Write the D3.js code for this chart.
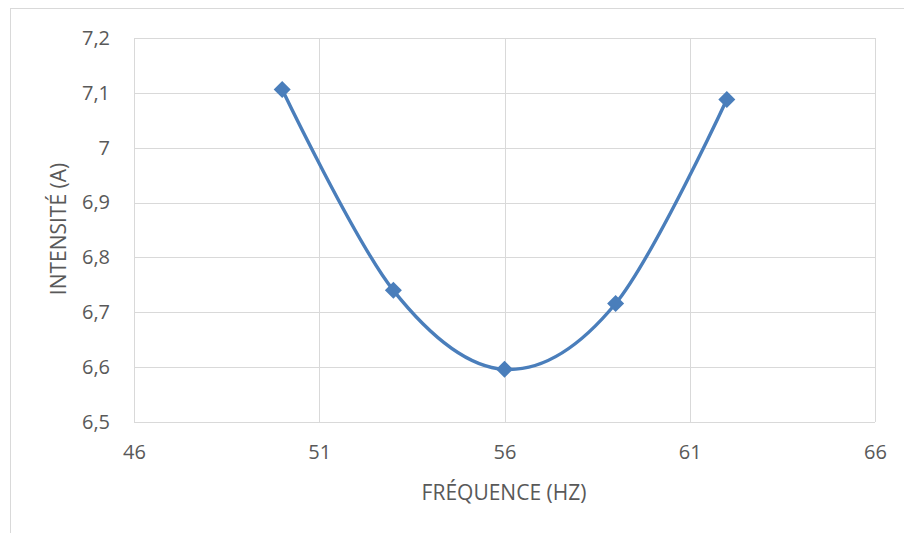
<!DOCTYPE html>
<html><head><meta charset="utf-8">
<script src="https://cdn.jsdelivr.net/npm/d3@7"></script>
<style>
html,body{margin:0;padding:0;background:#fff;}
svg{display:block;}
text{font-family:"Open Sans","Noto Sans",sans-serif;fill:#595959;}
</style></head>
<body>
<script>
const frequencies = [50, 53, 56, 59, 62];
const intensities = [7.106, 6.740, 6.596, 6.716, 7.088];
const xTicks = [46, 51, 56, 61, 66];
const yTicks = [6.5, 6.6, 6.7, 6.8, 6.9, 7.0, 7.1, 7.2];
const xTitle = "FRÉQUENCE (HZ)";
const yTitle = "INTENSITÉ (A)";

const W = 904, H = 533;
const svg = d3.select("body").append("svg").attr("width", W).attr("height", H);

// outer chart border
svg.append("rect").attr("x", 10.5).attr("y", 8.5).attr("width", W + 10).attr("height", H + 10)
  .attr("fill", "#fff").attr("stroke", "#d9d9d9").attr("stroke-width", 1);

const L = 134, R = 875, T = 38, B = 422;
const x = d3.scaleLinear().domain([46, 66]).range([L, R]);
const y = d3.scaleLinear().domain([6.5, 7.2]).range([B, T]);

const fmt = v => d3.format(".1f")(v).replace(/\.0$/, "").replace(".", ",");

// gridlines
const g = svg.append("g");
g.selectAll(".hg").data(yTicks).join("line")
  .attr("x1", L).attr("x2", R)
  .attr("y1", d => Math.round(y(d)) + 0.5).attr("y2", d => Math.round(y(d)) + 0.5)
  .attr("stroke", "#d9d9d9").attr("stroke-width", 1);
g.selectAll(".vg").data(xTicks).join("line")
  .attr("y1", T).attr("y2", B)
  .attr("x1", d => Math.round(x(d)) + 0.5).attr("x2", d => Math.round(x(d)) + 0.5)
  .attr("stroke", "#d9d9d9").attr("stroke-width", 1);

// axes labels via d3 axes
const xAxis = svg.append("g").attr("transform", `translate(0,${B})`)
  .call(d3.axisBottom(x).tickValues(xTicks).tickSize(0).tickPadding(23).tickFormat(d => d));
const yAxis = svg.append("g").attr("transform", `translate(${L},0)`)
  .call(d3.axisLeft(y).tickValues(yTicks).tickSize(0).tickPadding(24).tickFormat(fmt));
[xAxis, yAxis].forEach(a => {
  a.select(".domain").remove();
  a.selectAll("text").attr("font-size", 20).attr("fill", "#595959")
    .style("font-family", '"Open Sans","Noto Sans",sans-serif');
});

// titles
svg.append("text").attr("x", 504).attr("y", 492).attr("text-anchor", "middle")
  .attr("dominant-baseline", "central").attr("font-size", 21).text(xTitle);
svg.append("text").attr("transform", "translate(58,229) rotate(-90)").attr("text-anchor", "middle")
  .attr("dominant-baseline", "central").attr("font-size", 21).text(yTitle);

// line
const pts = frequencies.map((f, i) => [f, intensities[i]]);
const line = d3.line().x(d => x(d[0])).y(d => y(d[1])).curve(d3.curveCardinal.tension(0));
svg.append("path").datum(pts).attr("d", line).attr("fill", "none")
  .attr("stroke", "#4a7ebb").attr("stroke-width", 3.4).attr("stroke-linejoin", "round");

// markers
svg.selectAll(".mk").data(pts).join("path")
  .attr("transform", d => `translate(${x(d[0])},${y(d[1])})`)
  .attr("d", "M0,-8.5L8.5,0L0,8.5L-8.5,0Z").attr("fill", "#4a7ebb");
</script>
</body></html>
